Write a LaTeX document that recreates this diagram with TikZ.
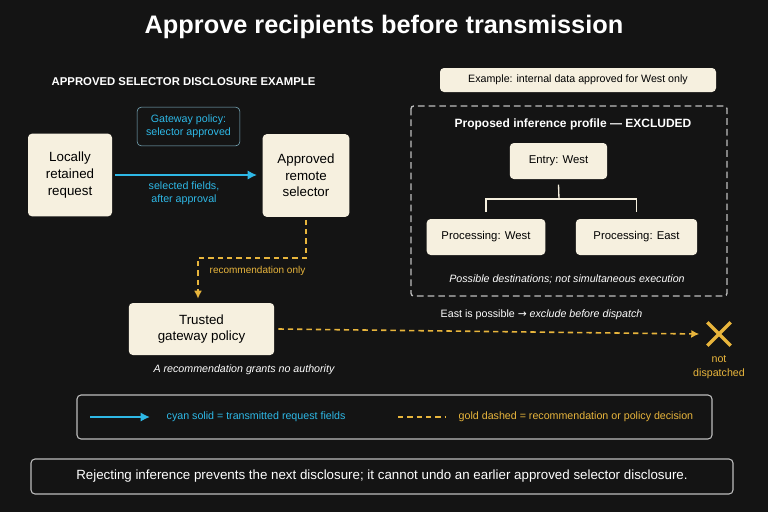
\documentclass[tikz,border=0pt]{standalone}
\usepackage{fontspec}
\setmainfont{Liberation Sans}
\newfontfamily\symfont{DejaVu Sans}
\usetikzlibrary{arrows.meta,shapes.misc}
\definecolor{bg}{HTML}{141414}
\definecolor{cream}{HTML}{F6F0DF}
\definecolor{cyanline}{HTML}{2EB8E6}
\definecolor{gold}{HTML}{E8B53C}
\definecolor{greyline}{HTML}{BDBDBD}
\tikzset{
  card/.style={rectangle, rounded corners=3pt, fill=cream, draw=none, text=black, align=center, font=\fontsize{10}{12.5}\selectfont},
  sent/.style={cyanline, line width=1.6pt, -{Latex[length=7pt,width=7pt]}},
  advice/.style={gold, line width=1.2pt, dash pattern=on 4pt off 3pt},
  note/.style={text=white, font=\fontsize{8}{10}\selectfont\itshape},
}
\begin{document}
\begin{tikzpicture}[x=0.75pt,y=-0.75pt]
        % Background
        \fill[bg] (0,0) rectangle (768,512);
        \useasboundingbox (0,0) rectangle (768,512);
        \node[text=white, font=\fontsize{19}{22}\selectfont\bfseries] (title) at (384,27) {Approve recipients before transmission};
        \node[text=white, anchor=west, font=\fontsize{8.5}{10}\selectfont\bfseries] (head) at (47,82) {APPROVED SELECTOR DISCLOSURE EXAMPLE};

        % Left flow
        \node[rectangle, rounded corners=3pt, fill=bg, draw=greyline!60!cyanline, text=cyanline, align=center, font=\fontsize{8}{10}\selectfont, minimum width=77pt, minimum height=29pt] (gp) at (188.5,126.5) {Gateway policy:\\selector approved};
        \node[card, minimum width=63pt, minimum height=62pt] (local) at (70,175) {Locally\\retained\\request};
        \node[card, minimum width=65pt, minimum height=62pt] (remote) at (306,175.5) {Approved\\remote\\selector};
        \node[card, minimum width=109pt, minimum height=39pt] (trusted) at (201.5,329) {Trusted\\gateway policy};
        \draw[sent] (local.east) ++(3,0) coordinate (s0) -- ([xshift=-4pt]remote.west |- s0);
        \node[text=cyanline, align=center, font=\fontsize{8}{10}\selectfont] (fields) at (184,193) {selected fields,\\after approval};
        \draw[advice, -{Latex[length=6pt,width=6pt]}] ([yshift=-2pt]remote.south) |- (198,258) -- ([yshift=3pt]trusted.north -| 198,0);
        \node[text=gold, anchor=west, font=\fontsize{7.5}{9}\selectfont] (rec) at (205,271) {recommendation only};
        \node[note] (auth) at (244,370) {A recommendation grants no authority};

        % Right side
        \node[card, minimum width=207pt, minimum height=18pt, font=\fontsize{8}{10}\selectfont] (example) at (578,80) {Example: internal data approved for West only};
        \draw[greyline, line width=1pt, dash pattern=on 5pt off 3pt, rounded corners=2pt] (411,106) rectangle (727,296);
        \node[text=white, font=\fontsize{9}{11}\selectfont\bfseries] (profile) at (573,124) {Proposed inference profile — EXCLUDED};
        \node[card, minimum width=73pt, minimum height=27pt, font=\fontsize{8.5}{10}\selectfont] (entry) at (558.5,161) {Entry: West};
        \node[card, minimum width=89pt, minimum height=27pt, font=\fontsize{8.5}{10}\selectfont] (pwest) at (486,237) {Processing: West};
        \node[card, minimum width=91pt, minimum height=27pt, font=\fontsize{8.5}{10}\selectfont] (peast) at (636.5,237) {Processing: East};
        \draw[cream, line width=1pt] ([yshift=-4pt]entry.south) -- (559,199) coordinate (split);
        \draw[cream, line width=1pt] ([yshift=5pt]pwest.north) |- (split) -| ([yshift=5pt]peast.north);
        \node[note] (dest) at (567,279) {Possible destinations; not simultaneous execution};
        \node[text=white, anchor=west, font=\fontsize{8}{10}\selectfont] (east) at (436,315) {East is possible {\symfont →} \textit{exclude before dispatch}};
        \node[gold, line width=2.6pt, draw, cross out, minimum size=15pt, inner sep=0pt] (stop) at (719,334) {};
        \draw[advice, -{Latex[length=6pt,width=6pt]}] ([xshift=3pt]trusted.east) -- ([xshift=-6pt]stop.west);
        \node[text=gold, align=center, font=\fontsize{8}{10}\selectfont] (nd) at (719,367) {not\\dispatched};

        % Legend
        \draw[greyline, line width=0.8pt, rounded corners=3pt] (77,395) rectangle (712,439);
        \coordinate (l0) at (90,417);
        \coordinate (l1) at (150,417);
        \draw[sent] (l0) -- (l1);
        \node[text=cyanline, anchor=west, font=\fontsize{8}{10}\selectfont] (lc) at (162,417) {cyan solid = transmitted request fields};
        \coordinate (l2) at (398,417);
        \coordinate (l3) at (446,417);
        \draw[advice] (l2) -- (l3);
        \node[text=gold, anchor=west, font=\fontsize{8}{10}\selectfont] (lg) at (454,417) {gold dashed = recommendation or policy decision};

        % Footer
        \draw[greyline, line width=0.8pt, rounded corners=3pt] (31,459) rectangle (733,494);
        \node[text=white, font=\fontsize{10}{12}\selectfont] (foot) at (382,476.5) {Rejecting inference prevents the next disclosure; it cannot undo an earlier approved selector disclosure.};
\end{tikzpicture}
\end{document}
